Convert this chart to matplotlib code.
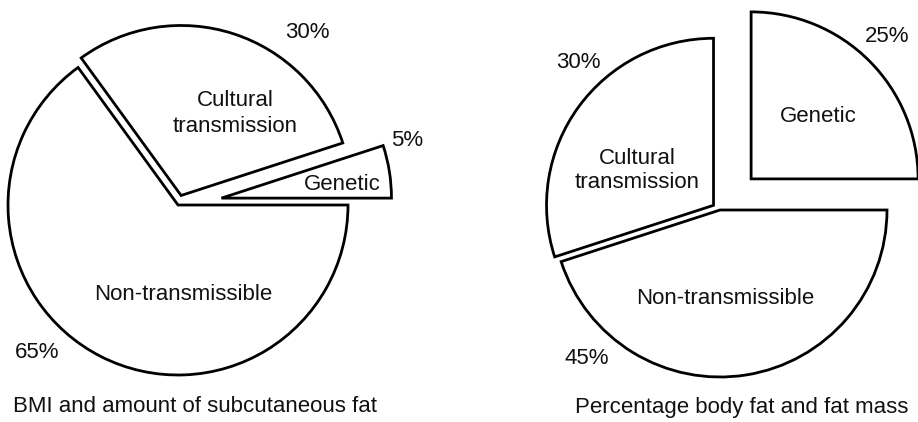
import matplotlib.pyplot as plt

plt.rcParams['font.family'] = ['Liberation Sans', 'DejaVu Sans']

# Data
categories = ['Genetic', 'Cultural transmission', 'Non-transmissible']
bmi_values = [5, 30, 65]
body_fat_values = [25, 30, 45]
bmi_title = 'BMI and amount of subcutaneous fat'
body_fat_title = 'Percentage body fat and fat mass'

W, H = 918, 422
fig = plt.figure(figsize=(W / 100, H / 100), dpi=100)
ax = fig.add_axes([0, 0, 1, 1])

wedge_style = dict(edgecolor='black', facecolor='white', linewidth=2.0)

# Left pie (explode in pixel units, data coords)
ax.pie(bmi_values, center=(178, H - 205), radius=170, startangle=0,
       counterclock=True, explode=[44, 10, 0], colors=['white'] * 3,
       wedgeprops=wedge_style, frame=True)

# Right pie
ax.pie(body_fat_values, center=(720, H - 210), radius=167, startangle=0,
       counterclock=True, explode=[44, 8, 0], colors=['white'] * 3,
       wedgeprops=wedge_style, frame=True)

ax.set_xlim(0, W)
ax.set_ylim(0, H)
ax.set_aspect('equal')
ax.axis('off')

fs = 16


def txt(x, y, s, size=fs):
    ax.text(x, H - y, s, fontsize=size, ha='center', va='center', color='#111111')


# Left labels
txt(307, 33, f'{bmi_values[1]}%')
txt(235, 100, 'Cultural')
txt(235, 126, 'transmission')
txt(407, 140, f'{bmi_values[0]}%')
txt(342, 184, categories[0])
txt(183, 295, categories[2])
txt(37, 353, f'{bmi_values[2]}%')
txt(195, 407, bmi_title)

# Right labels
txt(887, 37, f'{body_fat_values[0]}%')
txt(578, 63, f'{body_fat_values[1]}%')
txt(818, 116, categories[0])
txt(637, 158, 'Cultural')
txt(637, 182, 'transmission')
txt(725, 298, categories[2])
txt(587, 358, f'{body_fat_values[2]}%')
txt(742, 408, body_fat_title)

fig.savefig('out.png', dpi=100, facecolor='white')
